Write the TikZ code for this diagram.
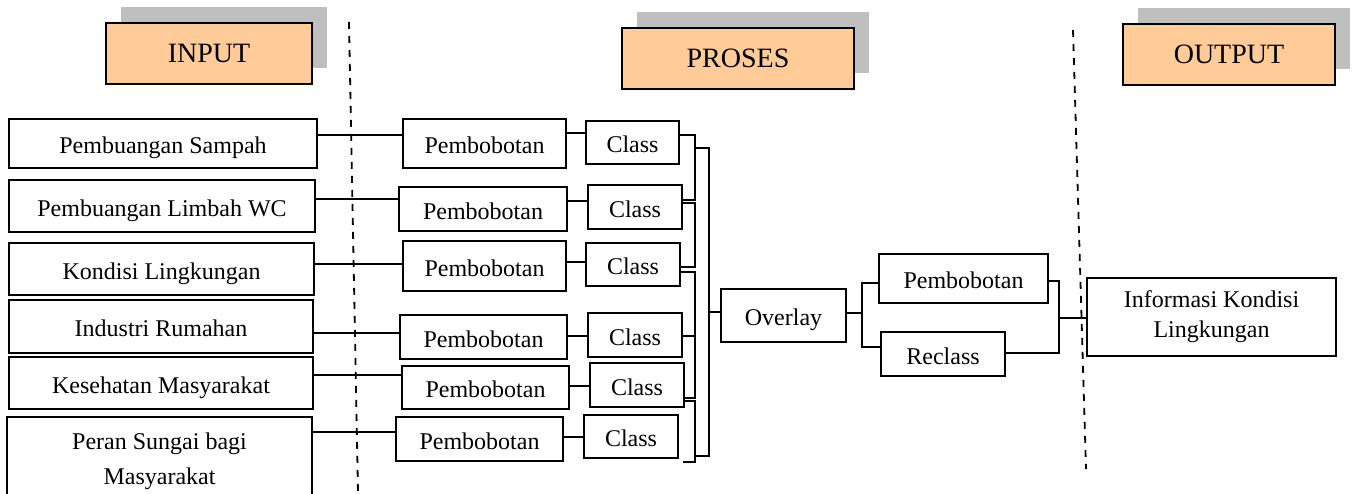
\documentclass[tikz,border=0pt]{standalone}
\usepackage{fontspec}
\setmainfont{Liberation Serif}
\usetikzlibrary{shadows}
\definecolor{peach}{HTML}{FFCC99}
\definecolor{shade}{HTML}{BFBFBF}
\begin{document}
\begin{tikzpicture}[x=0.5pt,y=-0.5pt,
  bx/.style={draw,line width=0.9pt,inner sep=0pt,font=\fontsize{12}{14}\selectfont,text height=10.5pt,text depth=0.5pt},
  mbx/.style={draw,line width=0.9pt,inner sep=0pt,align=center},
  ttl/.style={draw,line width=0.9pt,fill=peach,inner sep=0pt,font=\fontsize{14}{16}\selectfont,text height=9pt,text depth=0.5pt,
    drop shadow={shadow xshift=7.5pt,shadow yshift=8pt,fill=shade,opacity=1}},
  ln/.style={line width=0.8pt},
  dsh/.style={line width=0.9pt,dash pattern=on 3.5pt off 3.5pt}]
\path[use as bounding box, clip] (0,0) rectangle (1353,493);

% titles
\node[ttl,minimum width=103pt,minimum height=30.5pt] (tin) at (209,53.5) {INPUT};
\node[ttl,minimum width=116pt,minimum height=30.5pt] (tpr) at (738,58.5) {PROSES};
\node[ttl,minimum width=106pt,minimum height=30.5pt] (tout) at (1229,54.5) {OUTPUT};

% dashed separators
\coordinate (d1a) at (349,22);
\coordinate (d1b) at (358,493);
\coordinate (d2a) at (1073,30);
\coordinate (d2b) at (1086,469);
\draw[dsh] (d1a) -- (d1b);
\draw[dsh] (d2a) -- (d2b);

% input boxes
\node[bx,minimum width=154pt,minimum height=24.5pt] (i1) at (163,143.5) {Pembuangan Sampah};
\node[bx,minimum width=153pt,minimum height=26pt] (i2) at (162,206) {Pembuangan Limbah WC};
\node[bx,minimum width=152.5pt,minimum height=26pt] (i3) at (161.5,269) {Kondisi Lingkungan};
\node[bx,minimum width=152pt,minimum height=26.5pt] (i4) at (161,326.5) {Industri Rumahan};
\node[bx,minimum width=152pt,minimum height=26pt] (i5) at (161,383) {Kesehatan Masyarakat};
\node[mbx,font=\fontsize{12}{17.5}\selectfont,minimum width=152.5pt,minimum height=44pt] (i6) at (159.5,461) {Peran Sungai bagi\\Masyarakat};

% pembobotan boxes
\node[bx,minimum width=81.5pt,minimum height=24.5pt] (p1) at (484.5,143.5) {Pembobotan};
\node[bx,minimum width=84pt,minimum height=22pt] (p2) at (483,209) {Pembobotan};
\node[bx,minimum width=81.5pt,minimum height=25pt] (p3) at (484.5,266) {Pembobotan};
\node[bx,minimum width=83.5pt,minimum height=22pt] (p4) at (483.5,337) {Pembobotan};
\node[bx,minimum width=83.5pt,minimum height=21.5pt] (p5) at (485.5,387.5) {Pembobotan};
\node[bx,minimum width=83.5pt,minimum height=22pt] (p6) at (479.5,439) {Pembobotan};

% class boxes
\node[bx,minimum width=46.5pt,minimum height=21.5pt] (c1) at (632.5,142.5) {Class};
\node[bx,minimum width=47pt,minimum height=22pt] (c2) at (635,207) {Class};
\node[bx,minimum width=47pt,minimum height=21.5pt] (c3) at (633,264.5) {Class};
\node[bx,minimum width=47pt,minimum height=22pt] (c4) at (635,335) {Class};
\node[bx,minimum width=47pt,minimum height=22pt] (c5) at (637,385) {Class};
\node[bx,minimum width=47pt,minimum height=21.5pt] (c6) at (631,436.5) {Class};

% process boxes
\node[bx,minimum width=62.5pt,minimum height=26.5pt] (ov) at (783.5,315.5) {Overlay};
\node[bx,minimum width=84.5pt,minimum height=24.5pt] (p7) at (963.5,278.5) {Pembobotan};
\node[bx,minimum width=62pt,minimum height=22pt] (rc) at (943,354) {Reclass};
\node[mbx,font=\fontsize{12}{15}\selectfont,minimum width=124.5pt,minimum height=39pt] (info) at (1211.5,317) {Informasi Kondisi\\Lingkungan};

% input -> pembobotan
\draw[ln] ([yshift=4.25pt]i1.east) coordinate (t) -- (t -| p1.west);
\draw[ln] ([yshift=3.5pt]i2.east) coordinate (t) -- (t -| p2.west);
\draw[ln] ([yshift=2.5pt]i3.east) coordinate (t) -- (t -| p3.west);
\draw[ln] ([yshift=-3.25pt]i4.east) coordinate (t) -- (t -| p4.west);
\draw[ln] ([yshift=4pt]i5.east) coordinate (t) -- (t -| p5.west);
\draw[ln] ([yshift=14.5pt]i6.east) coordinate (t) -- (t -| p6.west);

% pembobotan -> class
\draw[ln] ([yshift=5.25pt]p1.east) coordinate (t) -- (t -| c1.west);
\draw[ln] ([yshift=4pt]p2.east) coordinate (t) -- (t -| c2.west);
\draw[ln] ([yshift=2pt]p3.east) coordinate (t) -- (t -| c3.west);
\draw[ln] ([yshift=0.5pt]p4.east) coordinate (t) -- (t -| c4.west);
\draw[ln] ([yshift=0.75pt]p5.east) coordinate (t) -- (t -| c5.west);
\draw[ln] ([yshift=1pt]p6.east) coordinate (t) -- (t -| c6.west);

% bracket of classes
\coordinate (sx) at (695,0);
\coordinate (sx2) at (709,0);
\coordinate (sx3) at (862,0);
\coordinate (sx4) at (1059,0);
\draw[ln] ([yshift=3.75pt]c1.east) coordinate (t) -- (t -| sx) -- (695,200) -- ([yshift=3.5pt]c2.east);
\draw[ln] ([yshift=2pt]c2.east) -- (695,203) -- (695,267) -- ([yshift=-1.25pt]c3.east);
\draw[ln] ([yshift=-3.75pt]c3.east) -- (695,272) -- (695,398) -- ([yshift=-6.5pt]c5.east);
\draw[ln] ([yshift=-0.5pt]c4.east) coordinate (t) -- (t -| sx);
\draw[ln] ([yshift=-8pt]c5.east) -- (695,401) -- (695,462) -- (683,462);
\draw[ln] (695,148) -- (709,148) -- (709,456) -- (695,456);
\draw[ln] ([yshift=1.75pt]ov.west) coordinate (t) -- (t -| sx2);

% overlay split
\draw[ln] ([yshift=1.25pt]ov.east) coordinate (t) -- (t -| sx3);
\draw[ln] ([yshift=-2.25pt]p7.west) coordinate (t) -- (t -| sx3) -- (862,347) -- ([yshift=3.5pt]rc.west);
\draw[ln] ([yshift=-1.25pt]p7.east) -- (1059,281) -- (1059,353) -- ([yshift=0.5pt]rc.east);
\draw[ln] ([yshift=-0.5pt]info.west) coordinate (t) -- (t -| sx4);
\end{tikzpicture}
\end{document}
